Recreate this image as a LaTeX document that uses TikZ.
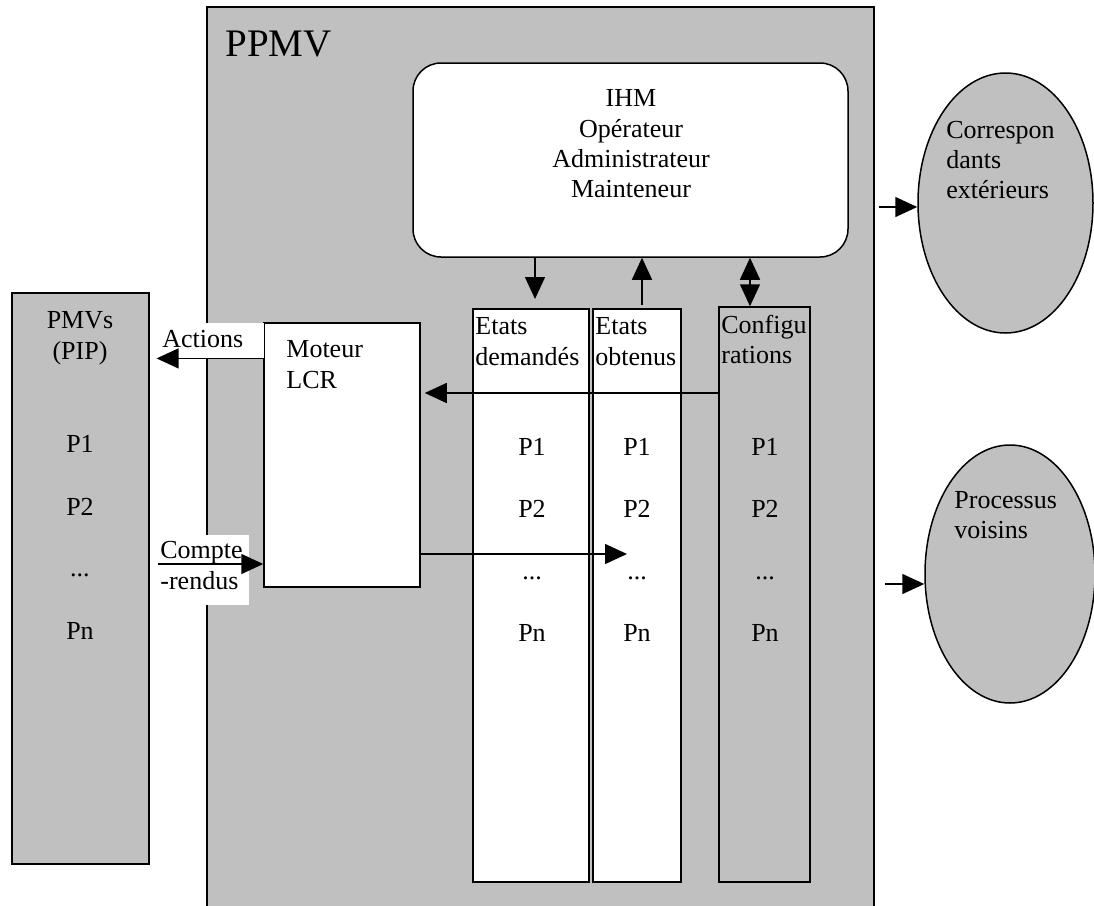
\documentclass[tikz,border=0pt]{standalone}
\usepackage{fontspec}
\setmainfont{Liberation Serif}
\usetikzlibrary{fit,arrows.meta,shapes.geometric}
\definecolor{silver}{HTML}{C0C0C0}
\tikzset{
  frame/.style={draw=black, line width=0.75pt, inner sep=0pt},
  lbl/.style={anchor=base west, inner sep=0pt, font=\fontsize{13}{15}\selectfont},
  ctr/.style={anchor=base, inner sep=0pt, font=\fontsize{13}{15}\selectfont},
  arr/.style={draw=black, line width=0.75pt, -{Triangle[length=11pt,width=10pt]}},
  darr/.style={draw=black, line width=0.75pt, {Triangle[length=11pt,width=10pt]}-{Triangle[length=11pt,width=10pt]}},
}
\begin{document}
\begin{tikzpicture}[x=0.5pt,y=-0.5pt]
\useasboundingbox (0,0) rectangle (1094,906);
\clip (0,0) rectangle (1094,906);
\fill[white] (0,0) rectangle (1094,906);

% outer boxes
\node[frame, fill=silver, fit={(12,293) (149,864)}] (pmv) {};
\node[frame, fill=silver, fit={(207,7) (874,920)}] (ppmv) {};
\node[anchor=base west, inner sep=0pt, font=\fontsize{19.5}{22}\selectfont] (ppmvt) at (225,56) {PPMV};

% IHM
\node[frame, fill=white, rounded corners=14pt, fit={(413,63) (848,257)}] (ihm) {};
\node[ctr] (ihm1) at (631,106) {IHM};
\node[ctr] (ihm2) at (631,137) {Opérateur};
\node[ctr] (ihm3) at (631,167) {Administrateur};
\node[ctr] (ihm4) at (631,197) {Mainteneur};

% columns
\node[frame, fill=white, fit={(473,309) (589,882)}] (dem) {};
\node[frame, fill=white, fit={(593,309) (681,882)}] (obt) {};
\node[frame, fill=silver, fit={(719,307) (810,882)}] (cfg) {};

\node[lbl] (dem1) at (475,334) {Etats};
\node[lbl] (dem2) at (475,365) {demandés};
\node[lbl] (obt1) at (595,334) {Etats};
\node[lbl] (obt2) at (595,365) {obtenus};
\node[lbl] (cfg1) at (721,333) {Configu};
\node[lbl] (cfg2) at (721,363) {rations};

\foreach \cx/\nm in {532/d, 637/o, 765/c} {
  \node[ctr] (\nm p1) at (\cx,455) {P1};
  \node[ctr] (\nm p2) at (\cx,517) {P2};
  \node[ctr] (\nm p3) at (\cx,579) {...};
  \node[ctr] (\nm pn) at (\cx,641) {Pn};
}

% PMV texts
\node[ctr] (pmv1) at (80,328) {PMVs};
\node[ctr] (pmv2) at (80,359) {(PIP)};
\node[ctr] (pmvp1) at (80,452) {P1};
\node[ctr] (pmvp2) at (80,515) {P2};
\node[ctr] (pmvp3) at (80,576) {...};
\node[ctr] (pmvpn) at (80,639) {Pn};

% Moteur LCR
\node[frame, fill=white, fit={(264,323) (420,587)}] (lcr) {};
\node[lbl] (lcr1) at (286,357) {Moteur};
\node[lbl] (lcr2) at (286,388) {LCR};

% labels with white background
\node[fill=white, inner sep=0pt, fit={(157,323) (264,358)}] (actbg) {};
\node[lbl] (act) at (162,347) {Actions};
\node[fill=white, inner sep=0pt, fit={(157,535) (249,605)}] (crbg) {};
\node[lbl] (cr1) at (160,558) {Compte};
\node[lbl] (cr2) at (160,589) {-rendus};

% ellipses
\node[frame, fill=silver, ellipse, minimum width=87.5pt, minimum height=130pt] (corr) at (1005.5,203) {};
\node[lbl] (corr1) at (946,138) {Correspon};
\node[lbl] (corr2) at (946,168) {dants};
\node[lbl] (corr3) at (946,198) {extérieurs};
\node[frame, fill=silver, ellipse, minimum width=85pt, minimum height=129pt] (proc) at (1010,574) {};
\node[lbl] (proc1) at (954,508) {Processus};
\node[lbl] (proc2) at (954,538) {voisins};

% connectors
\coordinate (d1) at (535,299);
\coordinate (o1) at (642,305);
\coordinate (c1) at (750,307);
\coordinate (cm) at (719,393);
\coordinate (mo) at (627,554);
\coordinate (crin) at (158,564);
\coordinate (e1) at (879,207);
\coordinate (e2) at (885,584);

\draw[arr] (lcr.west |- actbg.south) -- (actbg.south west);
\draw[arr] (crin) -- (crin -| lcr.west);
\draw[arr, shorten >=2pt] (cm) -- (cm -| lcr.east);
\draw[arr] (mo -| lcr.east) -- (mo);
\draw[arr] (d1 |- ihm.south) -- (d1);
\draw[arr] (o1) -- (o1 |- ihm.south);
\draw[darr] (c1 |- ihm.south) -- (c1 |- cfg.north);
\draw[arr] (e1) -- (e1 -| corr.west);
\draw[arr] (e2) -- (e2 -| proc.west);
\end{tikzpicture}
\end{document}
